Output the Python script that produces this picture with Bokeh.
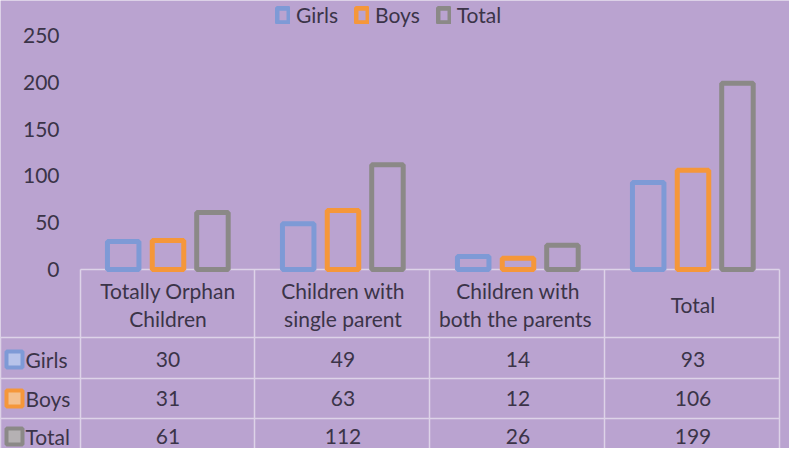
from bokeh.plotting import figure
from bokeh.models import ColumnDataSource, Range1d, FixedTicker, Legend, LinearAxis
from bokeh.core.properties import value
from bokeh.embed import file_html
from bokeh.resources import INLINE

# ---- data ----
categories = ["Totally Orphan Children", "Children with single parent",
              "Children with both the parents", "Total"]
table_headers = ["Totally Orphan\nChildren", "Children with\nsingle parent",
                 "Children with\nboth the  parents", "Total"]
series_names = ["Girls", "Boys", "Total"]
girls = [30, 49, 14, 93]
boys = [31, 63, 12, 106]
total = [61, 112, 26, 199]
y_ticks = [0, 50, 100, 150, 200, 250]

# ---- style ----
BG = "#baa3d0"
TXT = "#3b3448"
BLUE = "#7e9ad6"
ORANGE = "#f5973a"
GRAY = "#8b8987"
GRID = "#ddd3e8"
FONT = "Lato"
FS = "21px"
colors = [BLUE, ORANGE, GRAY]
inner = ["#b7c3ea", "#f4c08e", "#b5b1b3"]

W, H = 789, 448
COL = 175.0      # px per category column
PXU = 0.936      # px per value unit
ZERO_REF = 277   # reference-pixel row of value 0
LEFT_REF = 88    # reference-pixel column of the first category's left edge


def ux(px):
    return (px - LEFT_REF) / COL


def uy(py):
    return (ZERO_REF - py) / PXU


n = len(categories)
centers = [i + 0.5 for i in range(n)]

p = figure(width=W, height=H,
           x_range=Range1d(ux(8), ux(8 + W)), y_range=Range1d(uy(8 + H), uy(8)),
           x_axis_location=None, y_axis_location=None,
           output_backend="svg", toolbar_location=None,
           min_border_left=0, min_border_right=0, min_border_top=0, min_border_bottom=0,
           background_fill_color=BG, border_fill_color=BG, outline_line_color=None)
p.xgrid.visible = False
p.ygrid.visible = False

ax = LinearAxis(ticker=FixedTicker(ticks=y_ticks), fixed_location=0)
ax.axis_line_color = None
ax.major_tick_line_color = None
ax.minor_tick_line_color = None
ax.major_tick_out = 0
ax.major_tick_in = 0
ax.major_label_standoff = 21
ax.major_label_text_font = FONT
ax.major_label_text_font_size = FS
ax.major_label_text_color = TXT
p.add_layout(ax, "left")

# ---- table grid ----
vx = [88, 262, 437, 612, 787]
p.segment(x0=[ux(v) for v in vx], x1=[ux(v) for v in vx], y0=[uy(277)] * 5,
          y1=[uy(480)] * 5, line_color=GRID, line_width=1.5)
p.segment(x0=[ux(8)], x1=[ux(8)], y0=[uy(345)], y1=[uy(480)], line_color=GRID, line_width=1.5)
p.segment(x0=[ux(88)], x1=[ux(787)], y0=[uy(277)], y1=[uy(277)], line_color=GRID, line_width=1.5)
hy = [uy(345), uy(386), uy(426)]
p.segment(x0=[ux(8)] * 3, x1=[ux(787)] * 3, y0=hy, y1=hy, line_color=GRID, line_width=1.5)

# ---- bars ----
bar_w = 0.18
offs = [-0.256, 0.0, 0.254]
items = []
for name, c, off, vals in zip(series_names, colors, offs, [girls, boys, total]):
    s = ColumnDataSource(dict(x=[cx + off for cx in centers], top=vals, cat=categories))
    r = p.vbar(x="x", top="top", bottom=0, width=bar_w, source=s,
               fill_color=BG, line_color=c, line_width=5)
    items.append((name, [r]))

leg = Legend(items=items, orientation="horizontal", location=(275, H - 27),
             border_line_color=None, background_fill_alpha=0, padding=0, margin=0,
             spacing=16, label_standoff=6, glyph_width=15, glyph_height=18,
             label_height=20,
             label_text_font=FONT, label_text_font_size=FS, label_text_color=TXT)
p.add_layout(leg)

# ---- table texts ----
p.text(x=centers, y=[uy(312)] * n, text=table_headers, text_font=value(FONT),
       text_font_size=FS, text_color=TXT, text_align="center", text_baseline="middle",
       text_line_height=1.15)

row_y = [uy(367), uy(406), uy(444)]
xs, ys, vals_txt = [], [], []
for ry, series in zip(row_y, [girls, boys, total]):
    for cx, v in zip(centers, series):
        xs.append(cx)
        ys.append(ry)
        vals_txt.append(str(v))
p.text(x=xs, y=ys, text=vals_txt, text_font=value(FONT), text_font_size=FS, text_color=TXT,
       text_align="center", text_baseline="middle")

p.scatter(x=[ux(22)] * 3, y=row_y, marker="square", size=16, line_width=4,
          line_color=colors, fill_color=inner)
p.text(x=[ux(33)] * 3, y=row_y, text=series_names, text_font=value(FONT), text_font_size=FS,
       text_color=TXT, text_align="left", text_baseline="middle")

open("out.html", "w").write(file_html(p, INLINE))
